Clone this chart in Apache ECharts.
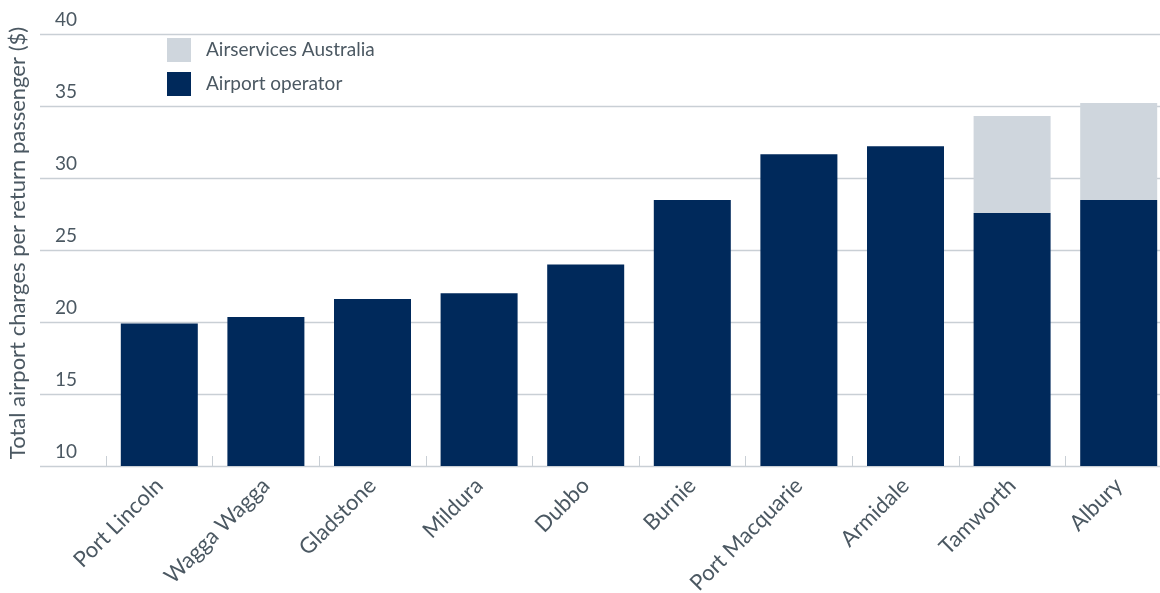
<!DOCTYPE html>
<html>
<head>
<meta charset="utf-8">
<script src="https://cdn.jsdelivr.net/npm/echarts@6/dist/echarts.min.js"></script>
<style>
  html, body { margin: 0; padding: 0; background: #ffffff; }
  #chart { width: 1160px; height: 593px; }
</style>
</head>
<body>
<div id="chart"></div>
<script>
// Regional airports, ordered by total charge per return passenger
const airports = ['Port Lincoln', 'Wagga Wagga', 'Gladstone', 'Mildura', 'Dubbo',
  'Burnie', 'Port Macquarie', 'Armidale', 'Tamworth', 'Albury'];
// Charges levied by the airport operator ($)
const operatorCharges = [19.9, 20.35, 21.6, 22.0, 24.0, 28.47, 31.65, 32.2, 27.57, 28.47];
// Charges levied by Airservices Australia ($)
const airservicesCharges = [0, 0, 0, 0, 0, 0, 0, 0, 6.73, 6.73];
const yTicks = { min: 10, max: 40, step: 5 };

const navy = '#00295b';
const lightGrey = '#cfd6dd';
const gridGrey = '#c9cfd5';
const textGrey = '#4b5862';
const fontFamily = 'Lato, "Open Sans", sans-serif';

const chart = echarts.init(document.getElementById('chart'), null, { renderer: 'canvas' });

chart.setOption({
  animation: false,
  backgroundColor: '#ffffff',
  textStyle: { fontFamily: fontFamily },
  legend: {
    orient: 'vertical',
    left: 167,
    top: 38,
    padding: 0,
    itemWidth: 24,
    itemHeight: 24,
    itemGap: 10,
    icon: 'rect',
    selectedMode: false,
    data: ['Airservices Australia', 'Airport operator'],
    formatter: '{t|{name}}',
    textStyle: {
      color: textGrey,
      fontSize: 19,
      fontFamily: fontFamily,
      rich: { t: { color: textGrey, fontSize: 19, fontFamily: fontFamily, padding: [0, 0, 0, 10] } }
    }
  },
  grid: [
    // background grid carrying the value scale and its gridlines
    { left: 40, width: 1132, top: 34, bottom: 127, containLabel: false, outerBoundsMode: 'none' },
    // bar grid, offset to leave room beside the value labels
    { left: 106, width: 1066, top: 34, bottom: 127, containLabel: false, outerBoundsMode: 'none' }
  ],
  xAxis: [
    { gridIndex: 0, type: 'value', show: false, min: 0, max: 1 },
    {
      gridIndex: 1,
      type: 'category',
      data: airports,
      axisLine: { show: false },
      axisTick: {
        show: true,
        inside: true,
        length: 10,
        alignWithLabel: false,
        lineStyle: { color: gridGrey, width: 1 }
      },
      axisLabel: {
        rotate: 45,
        margin: 16,
        color: textGrey,
        fontSize: 22,
        fontFamily: fontFamily,
        interval: 0
      }
    }
  ],
  yAxis: [
    {
      gridIndex: 0,
      type: 'value',
      min: yTicks.min,
      max: yTicks.max,
      interval: yTicks.step,
      name: 'Total airport charges per return passenger ($)',
      nameLocation: 'middle',
      nameGap: 11,
      nameRotate: 90,
      nameTextStyle: { color: textGrey, fontSize: 22, fontFamily: fontFamily, padding: [0, 0, 0, 14] },
      axisLine: { show: false },
      axisTick: { show: false },
      splitLine: { show: true, lineStyle: { color: gridGrey, width: 1.3 } },
      axisLabel: {
        inside: true,
        margin: 15,
        verticalAlign: 'bottom',
        padding: [0, 0, 5, 0],
        color: textGrey,
        fontSize: 19,
        fontFamily: fontFamily
      }
    },
    {
      gridIndex: 1,
      type: 'value',
      min: yTicks.min,
      max: yTicks.max,
      interval: yTicks.step,
      show: false
    }
  ],
  series: [
    {
      name: 'Airport operator',
      type: 'bar',
      xAxisIndex: 1,
      yAxisIndex: 1,
      stack: 'total',
      barWidth: 77,
      itemStyle: { color: navy },
      data: operatorCharges
    },
    {
      name: 'Airservices Australia',
      type: 'bar',
      xAxisIndex: 1,
      yAxisIndex: 1,
      stack: 'total',
      barWidth: 77,
      itemStyle: { color: lightGrey },
      data: airservicesCharges
    }
  ]
});
</script>
</body>
</html>
